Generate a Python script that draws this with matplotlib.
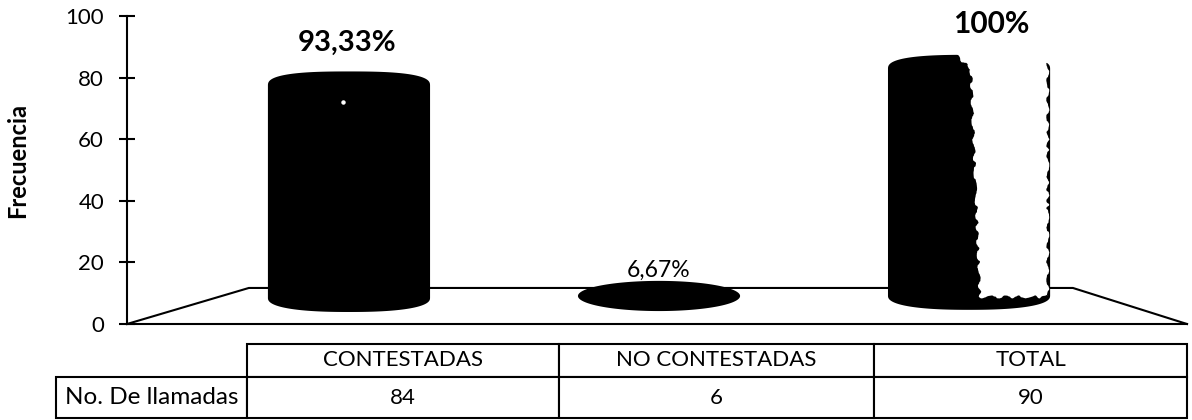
import numpy as np
import matplotlib
matplotlib.use("Agg")
import matplotlib.pyplot as plt
from matplotlib.patches import Polygon
from matplotlib.table import Table

plt.rcParams['font.family'] = ['Lato', 'DejaVu Sans']

categories = ['CONTESTADAS', 'NO CONTESTADAS', 'TOTAL']
llamadas = [84, 6, 90]
percent_labels = ['93,33%', '6,67%', '100%']
row_label = 'No. De llamadas'
y_ticks = [0, 20, 40, 60, 80, 100]
# where the cylinders appear against the axis (3d view, so not the table values)
cyl_top = [82, 14, 87.4]
cyl_bottom = [3.9, 4.2, 4.6]

W, H = 1192, 420
fig = plt.figure(figsize=(W / 100, H / 100), dpi=100)

# axes box in pixels of the image
left, right, top, bottom = 127, 1187, 16, 324
ax = fig.add_axes([left / W, 1 - bottom / H, (right - left) / W, (bottom - top) / H])
ax.set_ylim(0, 100)
# bars sit at 0, 1, 2
ax.set_xlim(-0.716, 2.703)
ax.set_yticks(y_ticks)
ax.set_xticks([])
ax.tick_params(axis='y', labelsize=16, length=12, width=1.5, pad=10.5, direction='inout')
ax.set_ylabel('Frecuencia', fontsize=17, fontweight='bold')
ax.yaxis.set_label_coords(-0.0925, 0.532)
for s in ['top', 'right']:
    ax.spines[s].set_visible(False)
ax.spines['left'].set_linewidth(1.5)
ax.spines['bottom'].set_linewidth(1.5)

# floor of the 3d chart
floor_x = [-0.716, -0.323, 2.335, 2.703]
floor_y = [0, 11.7, 11.7, 0]
ax.plot(floor_x, floor_y, color='k', lw=1.5, clip_on=False, zorder=1)

bar_w = 0.523
cap_h = 4.6  # half height of the end caps, y units


def cylinder(x, y0, y1):
    # outline with squarish end caps, plain ellipse when the bar is flat
    flat = y1 - y0 < 2.5 * cap_h
    cap = (y1 - y0) / 2 if flat else cap_h
    t = np.linspace(0, 2 * np.pi, 200)
    c, s = np.cos(t), np.sin(t)
    n = np.full_like(t, 2.0) if flat else np.where(s >= 0, 2.7, 2.4)
    xs = x + bar_w / 2 * np.sign(c) * np.abs(c) ** (2 / n)
    ys = cap * np.sign(s) * np.abs(s) ** (2 / n)
    ys = np.where(s >= 0, y1 - cap + ys, y0 + cap + ys)
    ax.add_patch(Polygon(np.column_stack([xs, ys]), closed=True, color='k', lw=0, zorder=2))


for i in range(len(categories)):
    cylinder(i, cyl_bottom[i], cyl_top[i])

# white lit side of the last cylinder, rough edge like the scan
lit = Polygon([(1.955, 92), (1.955, 87.6), (2.006, 82.7), (2.035, 8.8), (2.254, 8.8),
               (2.254, 84.7), (2.30, 84.7), (2.30, 92)],
              closed=True, color='white', lw=0, zorder=3)
lit.set_sketch_params(scale=1.5, length=25, randomness=5)
ax.add_patch(lit)

# speck on the first cylinder
ax.plot([-0.02], [72], marker='o', ms=2.2, color='white', zorder=3)

label_y = [88.8, 15.4, 94.6]
label_sizes = [21, 16.5, 21.5]
label_weights = ['bold', 'normal', 'bold']
label_x = [-0.006, 1.0, 2.07]
for i, txt in enumerate(percent_labels):
    ax.text(label_x[i], label_y[i], txt, ha='center', va='baseline', fontsize=label_sizes[i],
            fontweight=label_weights[i], zorder=4)

# data table under the chart
tb_l, tb_r, tb_t, tb_b = 56, 1187, 344, 418
tbl = Table(ax, bbox=[(tb_l - left) / (right - left), (bottom - tb_b) / (bottom - top),
                      (tb_r - tb_l) / (right - left), (tb_b - tb_t) / (bottom - top)])
col_w = [191, 312, 315, 313]
row_h = [33, 41]
for c, name in enumerate(categories):
    tbl.add_cell(0, c + 1, width=col_w[c + 1], height=row_h[0], text=name, loc='center')
    tbl.add_cell(1, c + 1, width=col_w[c + 1], height=row_h[1], text=str(llamadas[c]), loc='center')
blank = tbl.add_cell(0, 0, width=col_w[0], height=row_h[0], text='')
blank.set_visible(False)
tbl.add_cell(1, 0, width=col_w[0], height=row_h[1], text=row_label, loc='center')
tbl.auto_set_font_size(False)
tbl.set_fontsize(16)
tbl[(1, 0)].get_text().set_fontsize(17.5)
for cell in tbl.get_celld().values():
    cell.set_linewidth(1.5)
    cell.set_clip_on(False)
ax.add_table(tbl)

fig.savefig('out.png', dpi=100)
